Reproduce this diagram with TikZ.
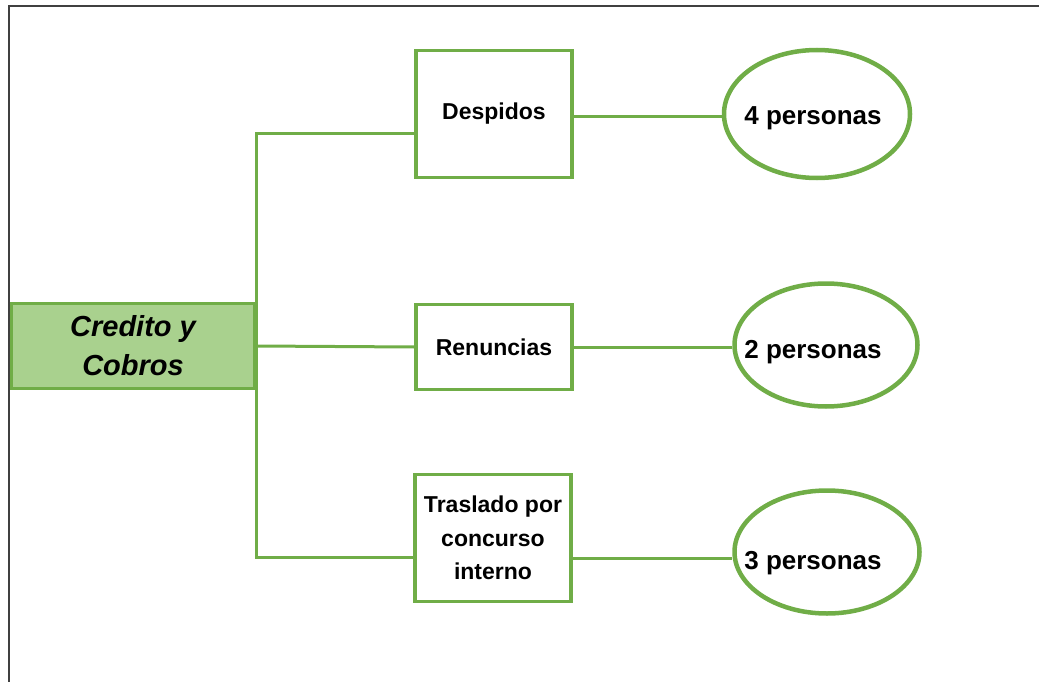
\documentclass[tikz,border=0pt]{standalone}
\usepackage{fontspec}
\setmainfont{Liberation Sans}
\usetikzlibrary{positioning, shapes.geometric}
\definecolor{verde}{HTML}{70AD47}
\definecolor{verdeclaro}{HTML}{A9D18E}
\definecolor{marco}{HTML}{404040}
\tikzstyle{area} = [rectangle, minimum width=243pt, minimum height=85pt, align=center, draw=verde, fill=verdeclaro, line width=3.5pt, font=\fontsize{29}{39}\selectfont\bfseries\itshape]
\tikzstyle{motivo} = [rectangle, minimum width=156pt, align=center, draw=verde, line width=3.5pt, font=\fontsize{23}{33.5}\selectfont\bfseries]
\tikzstyle{cantidad} = [ellipse, draw=verde, line width=4.5pt, inner sep=0pt]
\tikzstyle{cifra} = [font=\fontsize{26}{30}\selectfont\bfseries]
\tikzstyle{linea} = [draw=verde, line width=3pt]
\tikzstyle{marcoline} = [draw=marco, line width=2pt]

\begin{document}
\begin{tikzpicture}[x=1pt, y=-1pt]
    \useasboundingbox (0,0) rectangle (1039,682);
    \draw [marcoline] (9,682) |- (1039,6);

        % Nodes
        \node (area) [area] at (133,346) {Credito y\\Cobros};
        \node (despidos) [motivo, minimum height=127pt] at (494,114) {Despidos};
        \node (renuncias) [motivo, minimum height=85pt] at (494,347) {Renuncias};
        \node (traslado) [motivo, minimum height=127pt] at (493,538) {Traslado por\\concurso\\interno};
        \node (p4) [cantidad, minimum width=186pt, minimum height=128pt,
            label={[cifra, xshift=-4pt, yshift=-4pt]center:4 personas}] at (817,114) {};
        \node (p2) [cantidad, minimum width=183pt, minimum height=123pt,
            label={[cifra, xshift=-13pt, yshift=-7pt]center:2 personas}] at (826,345) {};
        \node (p3) [cantidad, minimum width=185pt, minimum height=123pt,
            label={[cifra, xshift=-14pt, yshift=-11pt]center:3 personas}] at (827,552) {};

        % Lines
        \draw [linea] (area.east) |- ([yshift=-20pt]despidos.west);
        \draw [linea] (area.east) -- (renuncias.west);
        \draw [linea] (area.east) |- ([yshift=-19pt]traslado.west);
        \draw [linea] ([yshift=-3pt]despidos.east) -- ([yshift=-3pt]p4.west);
        \draw [linea] (renuncias.east) -- (renuncias.east -| p2.west);
        \draw [linea] ([yshift=-20pt]traslado.east) -- ([yshift=-6pt]p3.west);

\end{tikzpicture}
\end{document}
